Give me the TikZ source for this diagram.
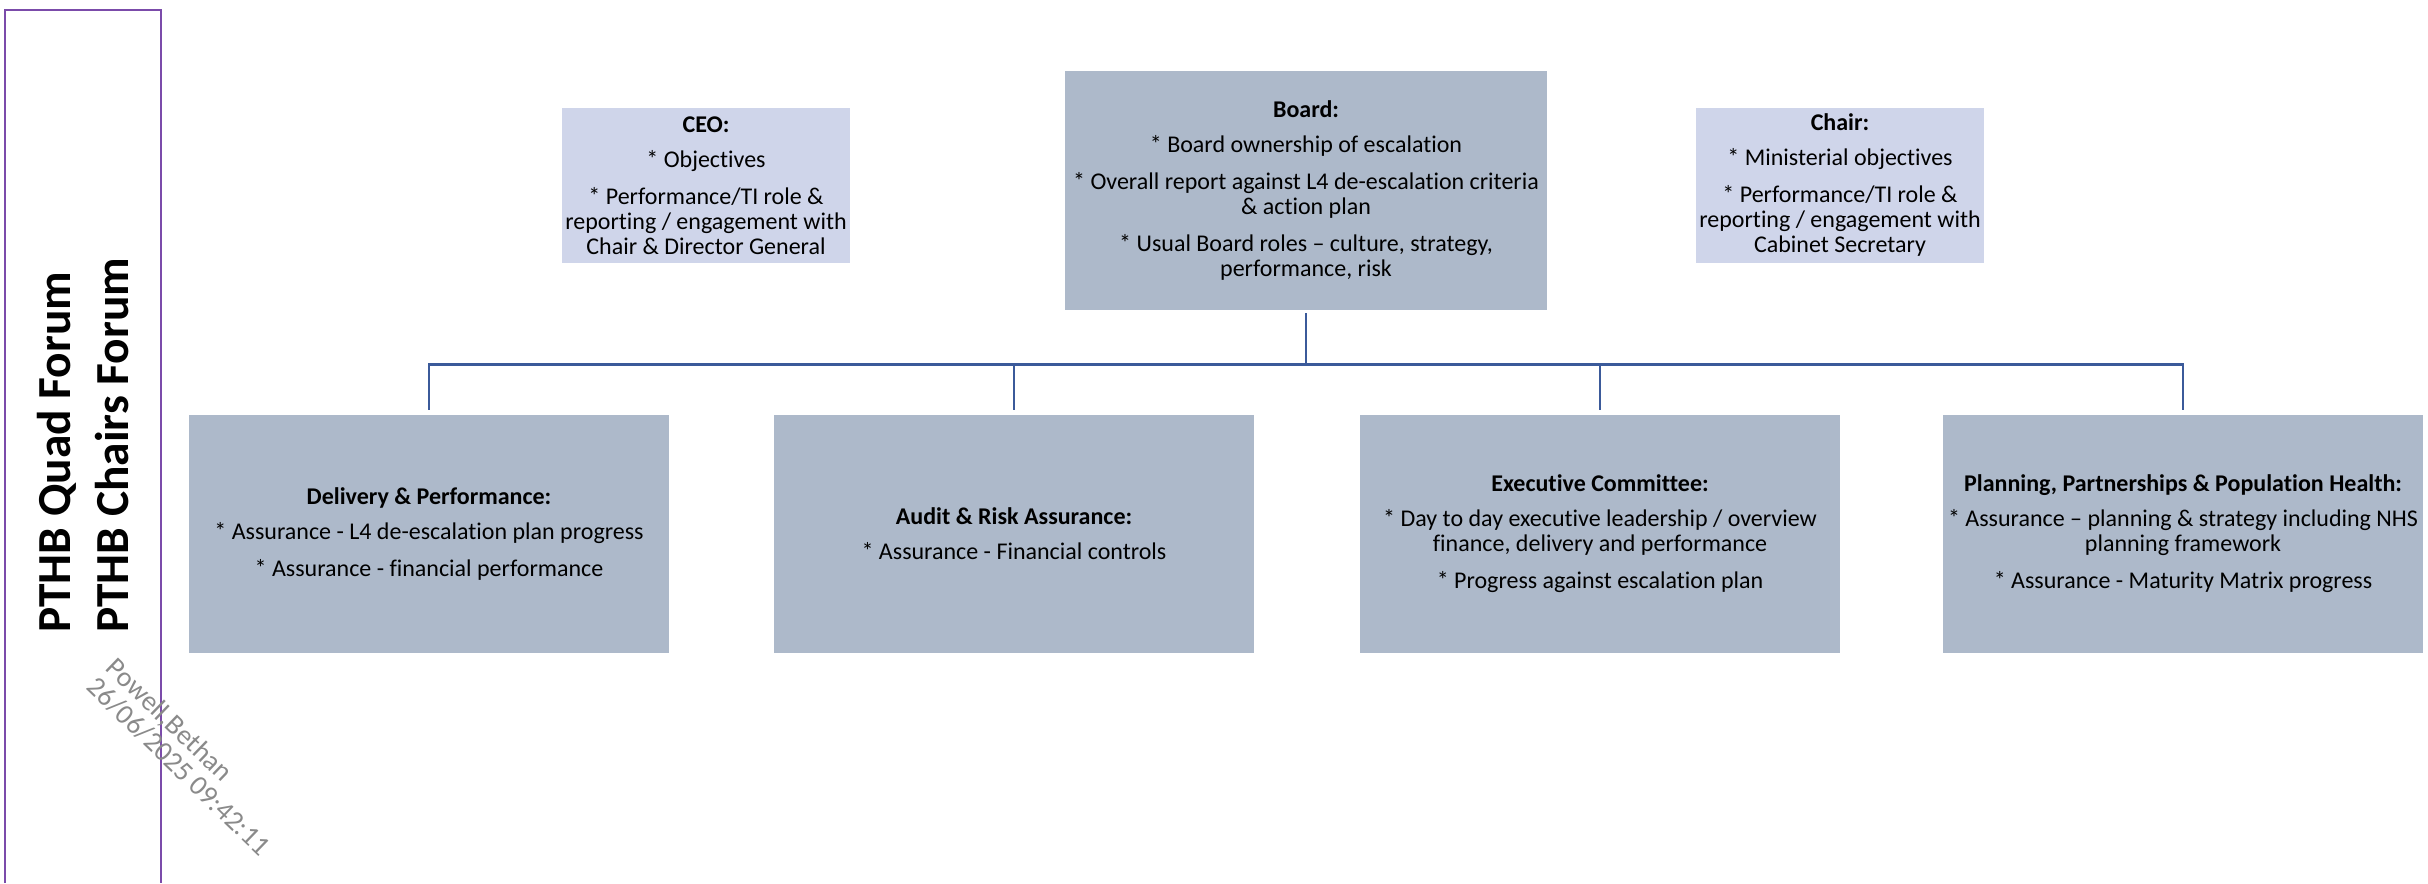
\documentclass[tikz,border=0pt]{standalone}
\usepackage{fontspec}
\setmainfont{Carlito}[Ligatures={NoCommon}]
\definecolor{boxgray}{HTML}{ADB9CA}
\definecolor{boxlight}{HTML}{CFD5EA}
\definecolor{connblue}{HTML}{3B5A9A}
\definecolor{framepurple}{HTML}{7B4BAA}
\definecolor{wmgray}{HTML}{8A8A8A}
\begin{document}
\begin{tikzpicture}[x=0.5pt,y=-0.5pt,
  bigbox/.style={rectangle, fill=boxgray, inner sep=0pt, minimum width=240pt, minimum height=119pt, align=center, font=\fontsize{12}{12.5}\selectfont},
  topbox/.style={rectangle, fill=boxlight, inner sep=0pt, minimum width=144pt, minimum height=77.5pt, align=center, font=\fontsize{12}{12.5}\selectfont},
  conn/.style={draw=connblue, line width=1.35pt},
  forum/.style={rotate=90, anchor=base west, inner sep=0pt, font=\fontsize{23.7}{28}\selectfont\bfseries}]
\useasboundingbox (0,0) rectangle (2428,883);

% left frame
\draw[framepurple, line width=1pt] (5,883) |- (161,10) -- (161,883);
\node[forum] (quad) at (70.5,633) {PTHB Quad Forum};
\node[forum] (chairs) at (128,633) {PTHB Chairs Forum};

% watermark
\node[rotate=-44, anchor=north west, align=left, text=wmgray, inner sep=0pt, font=\fontsize{14}{13.5}\selectfont] (wm) at (118,655) {Powell,Bethan\\26/06/2025 09:42:11};

% top row
\node[topbox] (ceo) at (706,185.5) {\textbf{CEO:}\\[5pt]* Objectives\\[6pt]* Performance/TI role \&\\reporting / engagement with\\Chair \& Director General};
\node[bigbox, minimum width=241pt, minimum height=119.5pt] (board) at (1306,190.5) {\textbf{Board:}\\[5pt]* Board ownership of escalation\\[6pt]* Overall report against L4 de-escalation criteria\\\& action plan\\[6pt]* Usual Board roles – culture, strategy,\\performance, risk};
\node[topbox] (chair) at (1840,185.5) {\textbf{Chair:}\\[5pt]* Ministerial objectives\\[6pt]* Performance/TI role \&\\reporting / engagement with\\Cabinet Secretary};

% bottom row
\node[bigbox] (d1) at (429,534) {\textbf{Delivery \& Performance:}\\[5pt]* Assurance - L4 de-escalation plan progress\\[6pt]* Assurance - financial performance};
\node[bigbox] (d2) at (1014,534) {\textbf{Audit \& Risk Assurance:}\\[5pt]* Assurance - Financial controls};
\node[bigbox] (d3) at (1600,534) {\textbf{Executive Committee:}\\[5pt]* Day to day executive leadership / overview\\finance, delivery and performance\\[6pt]* Progress against escalation plan};
\node[bigbox] (d4) at (2183,534) {\textbf{Planning, Partnerships \& Population Health:}\\[5pt]* Assurance – planning \& strategy including NHS\\planning framework\\[6pt]* Assurance - Maturity Matrix progress};

% connectors
\coordinate (bus) at ([yshift=-27pt]board.south);
\draw[conn] ([yshift=-1.5pt]board.south) -- (bus);
\draw[conn] ([yshift=2.5pt]d1.north) |- (bus) -| ([yshift=2.5pt]d4.north);
\draw[conn] ([yshift=2.5pt]d2.north) -- (d2.north |- bus);
\draw[conn] ([yshift=2.5pt]d3.north) -- (d3.north |- bus);
\end{tikzpicture}
\end{document}
